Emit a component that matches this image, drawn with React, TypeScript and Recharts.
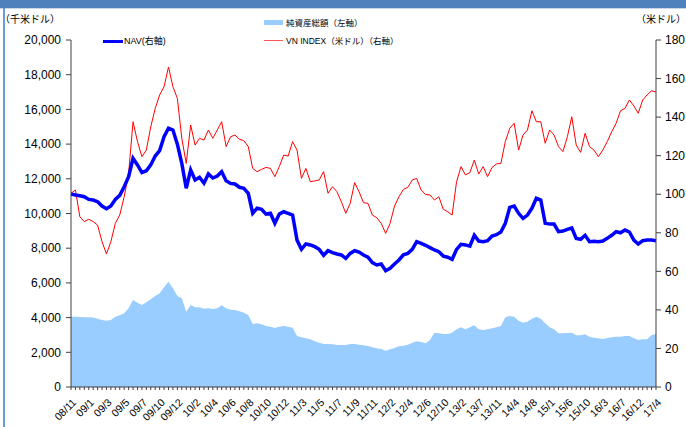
import React from "react";
import { ComposedChart, Area, Line, XAxis, YAxis } from "recharts";

const LABELS = ["08/11","09/1","09/3","09/5","09/7","09/10","09/12","10/2","10/4","10/6","10/8","10/10","10/12","11/3","11/5","11/7","11/9","11/11","12/2","12/4","12/6","12/10","13/2","13/7","13/11","14/4","14/8","15/1","15/6","15/10","16/3","16/7","16/12","17/4"];

const LEFT_TICKS = [0,2000,4000,6000,8000,10000,12000,14000,16000,18000,20000];
const RIGHT_TICKS = [0,20,40,60,80,100,120,140,160,180];

const VN_INDEX = [100.5,102.2,88.3,85.8,87.0,85.8,84.0,75.4,69.0,75.4,84.9,89.2,98.7,110.8,137.6,127.3,119.5,122.9,135.0,144.5,151.5,155.8,166.0,155.8,149.7,129.0,116.0,135.9,125.5,129.0,128.1,133.3,129.0,133.3,137.6,124.7,129.8,130.7,128.5,127.8,124.7,113.4,111.7,112.9,113.9,113.4,109.1,114.3,120.3,119.8,127.3,122.9,108.2,113.4,106.5,106.9,107.4,111.7,100.5,103.9,101.3,96.1,90.1,95.3,106.0,101.3,95.6,95.3,89.2,87.8,84.9,79.7,84.9,93.9,98.7,102.5,103.6,107.4,108.2,102.2,99.9,99.6,97.0,98.7,92.2,90.9,89.2,106.5,114.3,110.0,111.2,117.7,110.5,114.3,109.1,113.9,115.7,116.0,127.3,134.2,136.8,122.9,130.7,133.3,143.3,137.6,137.6,126.4,133.3,130.7,124.7,122.1,129.8,140.2,125.5,121.7,131.6,124.7,122.9,119.5,122.9,127.3,132.4,136.8,143.3,144.5,148.9,145.8,142.0,148.9,151.5,153.7,153.0];

const NAV = [100.1,99.6,99.2,98.7,97.3,97.0,96.1,93.9,92.5,93.9,97.3,99.4,103.9,109.1,118.6,115.2,111.2,112.2,115.2,119.8,122.6,129.8,134.2,133.3,126.0,116.0,103.1,112.6,107.4,108.8,105.7,110.5,108.4,109.4,111.7,107.0,105.6,105.3,103.6,103.1,100.5,90.1,92.8,92.2,89.7,90.1,84.9,89.7,90.9,90.1,89.2,76.2,71.4,74.2,73.7,72.8,71.4,68.3,70.7,69.7,69.0,68.5,66.7,69.3,70.7,70.0,68.5,67.3,64.5,63.3,63.8,60.3,61.6,63.8,65.9,68.6,69.3,71.4,75.4,74.5,73.5,72.3,71.1,70.2,67.9,67.3,66.2,71.4,74.0,73.7,73.1,78.7,75.7,75.4,75.9,78.3,79.0,80.4,84.9,93.2,93.9,90.1,87.5,89.2,92.7,97.9,97.0,84.9,84.5,84.5,80.6,80.9,81.8,82.5,77.1,76.6,78.7,75.4,75.6,75.4,75.7,77.1,78.7,80.6,80.0,81.4,80.4,76.2,74.2,75.9,76.2,76.2,75.9];

const TOTAL_ASSETS = [4053,4053,4035,4015,4015,4000,3939,3862,3824,3862,4053,4131,4246,4534,5015,4861,4726,4880,5053,5245,5399,5745,6072,5687,5245,5111,4342,4726,4592,4592,4515,4534,4496,4534,4707,4534,4457,4438,4361,4284,4150,3631,3670,3612,3516,3478,3401,3478,3516,3478,3420,2940,2863,2805,2747,2632,2555,2479,2479,2459,2421,2421,2421,2479,2479,2440,2401,2363,2286,2228,2190,2094,2171,2248,2344,2382,2440,2555,2632,2594,2517,2709,3132,3093,3055,3055,3132,3324,3439,3324,3439,3554,3324,3285,3324,3382,3439,3516,4015,4092,4053,3824,3708,3766,3939,4053,3939,3670,3439,3324,3093,3093,3113,3132,2978,2978,3036,2901,2844,2805,2767,2824,2863,2901,2901,2940,2940,2805,2709,2747,2747,2997,3055];

const POINTS_PER_LABEL = 4;

const data = NAV.map((v, i) => ({ idx: i, nav: v, vn: VN_INDEX[i], total: TOTAL_ASSETS[i] }));

const FONT = "'Liberation Sans', Arial, 'Noto Sans CJK JP', sans-serif";
const CJK = "'Liberation Sans', 'Noto Sans CJK JP', sans-serif";

const XTick = (props: any) => {
  const { x, y, payload } = props;
  const idx = payload.value as number;
  if (idx % POINTS_PER_LABEL !== 0) return null;
  const lab = LABELS[idx / POINTS_PER_LABEL];
  const ax = x + 6;
  const ay = y + 11;
  return (
    <text x={ax} y={ay} transform={`rotate(-45 ${ax} ${ay})`} textAnchor="end" fontSize={10.5} fontFamily={FONT} fill="#000">
      {lab}
    </text>
  );
};

export default function App() {
  return (
    <div style={{ position: "fixed", left: 0, top: 0, width: 686, height: 427, background: "#fff", overflow: "hidden" }}>
      <div style={{ position: "absolute", left: 0, top: 0, width: 686, height: 8, background: "#4F81BD" }} />
      <div style={{ position: "absolute", left: 0, top: 8, width: 686, height: 1, background: "#C6D6EC" }} />
      <div style={{ position: "absolute", left: 3, top: 8, width: 2, height: 419, background: "#6C9BD6" }} />
      <div style={{ position: "absolute", left: 0, top: 8 }}>
        <ComposedChart width={686} height={419} data={data} margin={{ top: 32, right: 0, bottom: 0, left: 0 }}>
          <XAxis
            dataKey="idx"
            type="category"
            interval={0}
            tick={<XTick />}
            tickSize={3}
            height={40}
            axisLine={{ stroke: "#404040" }}
            tickLine={{ stroke: "#404040" }}
          />
          <YAxis
            yAxisId="left"
            orientation="left"
            width={71}
            domain={[0, 20000]}
            ticks={LEFT_TICKS}
            tickFormatter={(v: number) => v.toLocaleString("en-US")}
            tick={{ fontSize: 12, fill: "#000", fontFamily: FONT }}
            tickSize={5}
            tickMargin={5}
            axisLine={{ stroke: "#404040" }}
            tickLine={{ stroke: "#404040" }}
            interval={0}
          />
          <YAxis
            yAxisId="right"
            orientation="right"
            width={30}
            domain={[0, 180]}
            ticks={RIGHT_TICKS}
            tick={{ fontSize: 12, fill: "#000", fontFamily: FONT, textAnchor: "start" }}
            tickSize={5}
            tickMargin={4}
            axisLine={{ stroke: "#404040" }}
            tickLine={{ stroke: "#404040" }}
            interval={0}
          />
          <Area yAxisId="left" dataKey="total" type="linear" fill="#99CCFF" fillOpacity={1} stroke="none" isAnimationActive={false} />
          <Line yAxisId="right" dataKey="vn" type="linear" stroke="#FF0000" strokeWidth={1} dot={false} isAnimationActive={false} />
          <Line yAxisId="right" dataKey="nav" type="linear" stroke="#0000FF" strokeWidth={3.5} dot={false} isAnimationActive={false} />
        </ComposedChart>
      </div>
      <div style={{ position: "absolute", left: 0, top: 11, fontSize: 10, fontFamily: CJK, whiteSpace: "nowrap" }}>（千米ドル）</div>
      <div style={{ position: "absolute", right: 0, top: 11, fontSize: 10, fontFamily: CJK, whiteSpace: "nowrap" }}>（米ドル）</div>
      <div style={{ position: "absolute", left: 103, top: 40, width: 20, height: 3, background: "#0000FF" }} />
      <div style={{ position: "absolute", left: 124, top: 35, fontSize: 9, lineHeight: "12px", fontFamily: CJK, whiteSpace: "nowrap" }}>NAV(右軸)</div>
      <div style={{ position: "absolute", left: 264, top: 20, width: 19, height: 5, background: "#99CCFF" }} />
      <div style={{ position: "absolute", left: 286, top: 17, fontSize: 8.5, lineHeight: "12px", fontFamily: CJK, whiteSpace: "nowrap" }}>純資産総額（左軸）</div>
      <div style={{ position: "absolute", left: 264, top: 40, width: 19, height: 1, background: "#FF5555" }} />
      <div style={{ position: "absolute", left: 286, top: 35, fontSize: 8.5, lineHeight: "12px", fontFamily: CJK, whiteSpace: "nowrap" }}>VN INDEX（米ドル）（右軸）</div>
    </div>
  );
}
